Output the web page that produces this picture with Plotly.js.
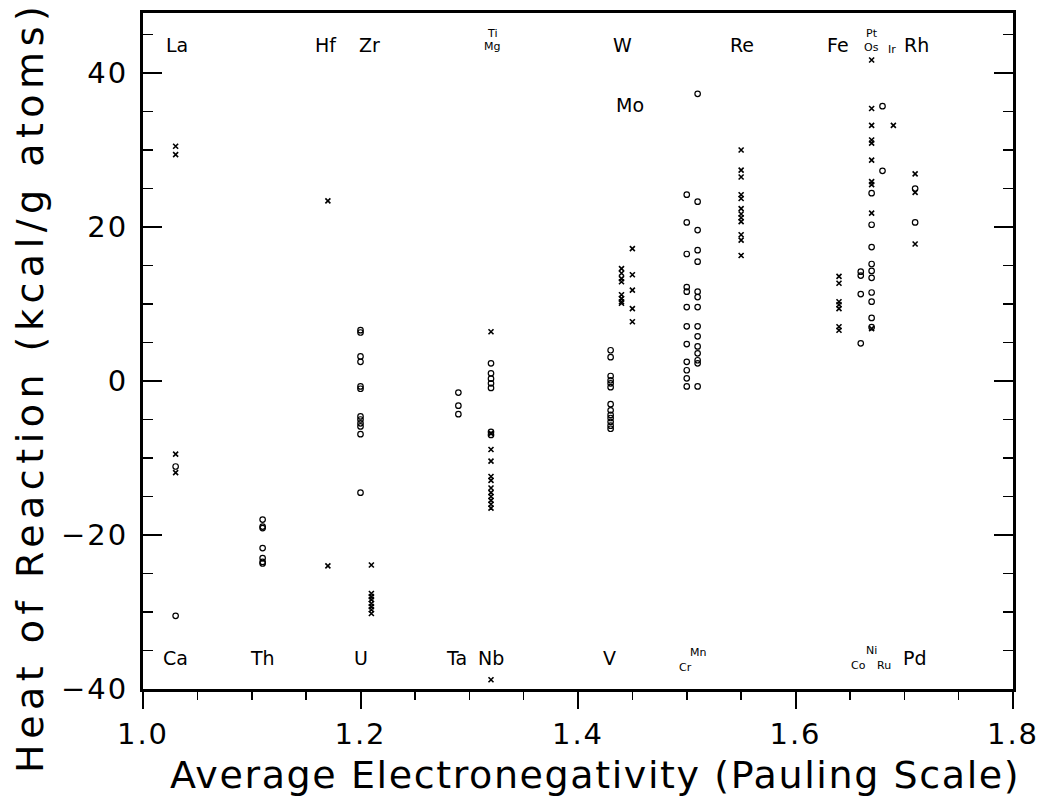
<!DOCTYPE html>
<html>
<head>
<meta charset="utf-8">
<script src="https://cdn.plot.ly/plotly-3.0.1.min.js"></script>
<style>html,body{margin:0;padding:0;background:#fff;}#chart{width:1043px;height:800px;}</style>
</head>
<body>
<div id="chart"></div>
<script>
// ---- Data: "x" symbols (series A) ----
const crossX = [
  1.03,1.03,1.03,1.03,
  1.17,1.17,
  1.21,1.21,1.21,1.21,1.21,1.21,1.21,1.21,
  1.32,1.32,1.32,1.32,1.32,1.32,1.32,1.32,1.32,1.32,1.32,1.32,1.32,
  1.44,1.44,1.44,1.44,1.44,1.44,1.44,1.44,
  1.45,1.45,1.45,1.45,1.45,
  1.55,1.55,1.55,1.55,1.55,1.55,1.55,1.55,1.55,1.55,1.55,1.55,
  1.64,1.64,1.64,1.64,1.64,1.64,1.64,
  1.67,1.67,1.67,1.67,1.67,1.67,1.67,1.67,1.67,1.67,
  1.69,
  1.71,1.71,1.71
];
const crossY = [
  30.5,29.4,-9.5,-11.9,
  23.4,-24.0,
  -23.9,-27.6,-28.0,-28.4,-28.9,-29.3,-29.7,-30.2,
  6.4,-6.8,-8.9,-10.4,-12.4,-12.9,-13.9,-14.5,-15.0,-15.5,-16.0,-16.5,-38.8,
  14.6,14.0,13.3,12.9,11.2,10.7,10.3,10.1,
  17.2,13.8,11.8,9.4,7.7,
  30.0,27.4,26.5,24.2,23.7,22.4,21.7,21.2,20.7,19.0,18.3,16.3,
  13.6,12.7,10.3,9.9,9.4,7.05,6.6,
  41.7,35.4,33.2,31.3,30.9,28.7,25.9,25.5,21.8,6.8,
  33.2,
  26.9,24.5,17.8
];
// ---- Data: "o" symbols (series B) ----
const circX = [
  1.03,1.03,
  1.11,1.11,1.11,1.11,1.11,1.11,1.11,
  1.20,1.20,1.20,1.20,1.20,1.20,1.20,1.20,1.20,1.20,1.20,1.20,
  1.29,1.29,1.29,
  1.32,1.32,1.32,1.32,1.32,1.32,1.32,
  1.43,1.43,1.43,1.43,1.43,1.43,1.43,1.43,1.43,1.43,1.43,1.43,1.43,
  1.50,1.50,1.50,1.50,1.50,1.50,1.50,1.50,1.50,1.50,1.50,1.50,
  1.51,1.51,1.51,1.51,1.51,1.51,1.51,1.51,1.51,1.51,1.51,1.51,1.51,1.51,1.51,
  1.66,1.66,1.66,1.66,
  1.67,1.67,1.67,1.67,1.67,1.67,1.67,1.67,1.67,1.67,
  1.68,1.68,
  1.71,1.71
];
const circY = [
  -11.1,-30.5,
  -18.0,-18.9,-19.1,-21.7,-23.0,-23.5,-23.7,
  6.6,6.3,3.2,2.5,-0.7,-1.0,-4.6,-5.0,-5.5,-5.9,-6.9,-14.5,
  -1.5,-3.2,-4.3,
  2.3,1.0,0.3,-0.3,-0.9,-6.6,-7.0,
  4.0,3.1,0.65,0.1,-0.3,-0.8,-3.0,-3.8,-4.4,-4.8,-5.3,-5.8,-6.2,
  24.2,20.6,16.5,12.2,11.6,9.6,7.1,4.8,2.5,1.4,0.35,-0.7,
  37.3,23.3,19.6,17.0,15.5,11.6,10.9,9.6,7.1,5.8,4.5,3.6,2.7,2.3,-0.7,
  14.2,13.7,11.3,4.9,
  24.4,20.3,17.4,15.2,14.3,13.4,11.5,10.3,8.2,7.0,
  35.7,27.3,
  25.0,20.6
];
// ---- Element labels ----
const bigLabels = ["La","Hf","Zr","W","Mo","Re","Fe","Rh","Ca","Th","U","Ta","Nb","V","Pd"];
const bigLabelX = [1.031,1.168,1.208,1.441,1.448,1.551,1.639,1.711,1.030,1.110,1.200,1.288,1.320,1.429,1.710];
const bigLabelY = [43.6,43.6,43.6,43.6,35.8,43.6,43.6,43.6,-36.0,-36.0,-36.0,-36.0,-36.0,-36.0,-36.0];
const smallLabels = ["Ti","Mg","Pt","Os","Ir","Mn","Cr","Ni","Co","Ru"];
const smallLabelX = [1.321,1.321,1.670,1.670,1.689,1.510,1.499,1.670,1.658,1.681];
const smallLabelY = [45.2,43.4,45.2,43.3,43.0,-35.2,-37.2,-35.0,-37.0,-37.0];
// ---- Tick labels and axis titles ----
const xTickVals = [1.0,1.2,1.4,1.6,1.8];
const xTickText = ["1.0","1.2","1.4","1.6","1.8"];
const yTickVals = [-40,-20,0,20,40];
const yTickText = ["\u221240","\u221220","0","20","40"];
const xTitle = "Average Electronegativity (Pauling Scale)";
const yTitle = "Heat of Reaction (kcal/g atoms)";

const FONT = "DejaVu Sans, sans-serif";
const sp = (t,px)=>'<span style="letter-spacing:'+px+'px">'+t+'</span>';

const annotations = [];
bigLabels.forEach((t,i)=>annotations.push({x:bigLabelX[i],y:bigLabelY[i],text:t,showarrow:false,
  font:{family:FONT,size:19,color:"#000"},xanchor:"center",yanchor:"middle"}));
smallLabels.forEach((t,i)=>annotations.push({x:smallLabelX[i],y:smallLabelY[i],text:t,showarrow:false,
  font:{family:FONT,size:11,color:"#000"},xanchor:"center",yanchor:"middle"}));
// axis titles placed as annotations (paper coords)
annotations.push({xref:"paper",yref:"paper",x:0.5195,y:-0.127,text:sp(xTitle,1.6),showarrow:false,
  font:{family:FONT,size:38,color:"#000"},xanchor:"center",yanchor:"middle"});
annotations.push({xref:"paper",yref:"paper",x:-0.13,y:0.4467,text:sp(yTitle,5.5),showarrow:false,textangle:-90,
  font:{family:FONT,size:38,color:"#000"},xanchor:"center",yanchor:"middle"});

const traces = [
  {x:crossX,y:crossY,type:"scatter",mode:"markers",name:"x",
   marker:{symbol:"x-thin-open",size:5,color:"#000",line:{color:"#000",width:1.6}},hoverinfo:"x+y"},
  {x:circX,y:circY,type:"scatter",mode:"markers",name:"o",
   marker:{symbol:"circle-open",size:5.5,color:"#000",line:{color:"#000",width:1.2}},hoverinfo:"x+y"}
];

const layout = {
  width:1043,height:800,
  margin:{l:143,r:30,t:13,b:111},
  paper_bgcolor:"#fff",plot_bgcolor:"#fff",
  showlegend:false,
  font:{family:FONT,color:"#000"},
  xaxis:{
    range:[1.0,1.8],tickvals:xTickVals,ticktext:xTickText.map(t=>sp(t,2)),
    ticks:"outside",ticklen:17,tickwidth:2,tickcolor:"#000",
    minor:{dtick:0.05,tick0:1.0,ticks:"outside",ticklen:8,tickwidth:1.5,tickcolor:"#000",showgrid:false},
    showline:true,linecolor:"#000",linewidth:3,mirror:true,
    showgrid:false,zeroline:false,
    tickfont:{family:FONT,size:29,color:"#000"}
  },
  yaxis:{
    range:[-40,47.8],tickvals:yTickVals,ticktext:yTickText.map(t=>sp(t,2)),
    ticks:"inside",ticklen:19,tickwidth:2,tickcolor:"#000",
    minor:{dtick:5,tick0:0,ticks:"inside",ticklen:10,tickwidth:1.5,tickcolor:"#000",showgrid:false},
    showline:true,linecolor:"#000",linewidth:3,mirror:"ticks",
    showgrid:false,zeroline:false,ticklabelstandoff:6,
    tickfont:{family:FONT,size:29,color:"#000"}
  },
  annotations:annotations
};
Plotly.newPlot("chart",traces,layout,{displayModeBar:false,staticPlot:true});
</script>
</body>
</html>
